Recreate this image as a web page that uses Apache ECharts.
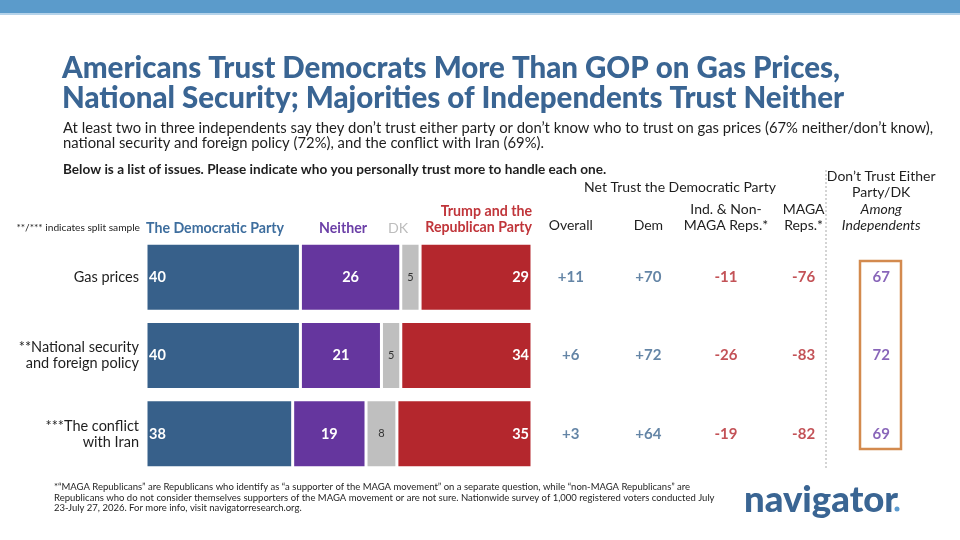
<!DOCTYPE html>
<html>
<head>
<meta charset="utf-8">
<script src="https://cdn.jsdelivr.net/npm/echarts@6/dist/echarts.min.js"></script>
<style>
  html, body { margin: 0; padding: 0; background: #fff; }
  #main { width: 960px; height: 540px; }
</style>
</head>
<body>
<div id="main"></div>
<script>
const issues = ['Gas prices', '**National security\nand foreign policy', '***The conflict\nwith Iran'];
const demParty = [40, 40, 38];
const neither = [26, 21, 19];
const dk = [5, 5, 8];
const gopParty = [29, 34, 35];

const tableCols = ['Overall', 'Dem', 'Ind', 'MAGA', 'Indep'];
const netOverall = [11, 6, 3];
const netDem = [70, 72, 64];
const netInd = [-11, -26, -19];
const netMaga = [-76, -83, -82];
const indepNeither = [67, 72, 69];

const FONT = 'Lato, "Noto Sans", sans-serif';
const BLUE = '#37608a';
const PURPLE = '#65369e';
const GRAY = '#bfbfbf';
const RED = '#b4272d';
const TXT = '#1e1e1e';

const chart = echarts.init(document.getElementById('main'));

function signed(v) {
  return v > 0 ? '+' + v : '' + v;
}

function barSeries(name, data, color, label) {
  return {
    name: name,
    type: 'bar',
    stack: 'all',
    barWidth: 68,
    data: data,
    itemStyle: { color: color, borderColor: '#fff', borderWidth: 1.5 },
    label: Object.assign({ show: true, fontFamily: FONT, fontSize: 14.5 }, label),
    silent: true
  };
}

function tableSeries(col, data, color, fmt) {
  return {
    type: 'scatter',
    xAxisIndex: 1,
    yAxisIndex: 1,
    symbolSize: 0,
    data: data.map((v, i) => ({ value: [col, i], v: v })),
    label: {
      show: true,
      position: 'inside',
      fontFamily: FONT,
      fontSize: 15,
      fontWeight: 'bold',
      color: color,
      formatter: p => fmt(p.data.v)
    },
    silent: true
  };
}

const colHeaders = {
  Overall: 'Overall',
  Dem: 'Dem',
  Ind: 'Ind. & Non-\nMAGA Reps.*',
  MAGA: 'MAGA\nReps.*',
  Indep: 'Don\u2019t Trust Either\nParty/DK\n{i|Among}\n{i|Independents}'
};

const option = {
  backgroundColor: '#fff',
  animation: false,
  grid: [
    { left: 146, width: 386, top: 238, height: 235 },
    { left: 532, right: 40, top: 238, height: 235 }
  ],
  xAxis: [
    { type: 'value', min: 0, max: 100, show: false, gridIndex: 0 },
    {
      type: 'category', gridIndex: 1, data: tableCols, position: 'top',
      axisLine: { show: false }, axisTick: { show: false },
      axisLabel: {
        margin: 4, interval: 0, fontFamily: FONT, fontSize: 14, color: TXT,
        lineHeight: 16.5, align: 'center', verticalAlign: 'bottom',
        formatter: v => colHeaders[v],
        rich: { i: { fontStyle: 'italic', fontFamily: FONT, fontSize: 14, color: TXT, lineHeight: 16.5 } }
      }
    }
  ],
  yAxis: [
    {
      type: 'category', gridIndex: 0, data: issues, inverse: true,
      axisLine: { show: false }, axisTick: { show: false },
      axisLabel: { margin: 7, fontFamily: FONT, fontSize: 14.5, color: TXT, lineHeight: 16, align: 'right' }
    },
    { type: 'category', gridIndex: 1, data: issues, inverse: true, show: false }
  ],
  series: [
    barSeries('The Democratic Party', demParty, BLUE,
      { position: 'insideLeft', distance: 3, color: '#fff', fontWeight: 'bold' }),
    barSeries('Neither', neither, PURPLE,
      { position: 'inside', color: '#fff', fontWeight: 'bold' }),
    barSeries('DK', dk, GRAY,
      { position: 'inside', color: '#333', fontSize: 11 }),
    barSeries('Trump and the Republican Party', gopParty, RED,
      { position: 'insideRight', distance: 3, color: '#fff', fontWeight: 'bold' }),
    tableSeries('Overall', netOverall, '#3d6690', signed),
    tableSeries('Dem', netDem, '#3d6690', signed),
    tableSeries('Ind', netInd, RED, signed),
    tableSeries('MAGA', netMaga, RED, signed),
    tableSeries('Indep', indepNeither, '#6a3ea8', v => '' + v)
  ],
  graphic: [
    { type: 'rect', shape: { x: 0, y: 0, width: 960, height: 13 }, style: { fill: '#5b9bcb' } },
    { type: 'rect', shape: { x: 0, y: 13, width: 960, height: 2 }, style: { fill: '#b5d3ea' } },
    {
      type: 'text', left: 62, top: 53,
      style: {
        text: 'Americans Trust Democrats More Than GOP on Gas Prices,\nNational Security; Majorities of Independents Trust Neither',
        font: '900 29.5px ' + FONT, fill: '#3a6593', lineHeight: 30.5
      }
    },
    {
      type: 'text', left: 63, top: 120,
      style: {
        text: 'At least two in three independents say they don\u2019t trust either party or don\u2019t know who to trust on gas prices (67% neither/don\u2019t know),\nnational security and foreign policy (72%), and the conflict with Iran (69%).',
        font: '14.8px ' + FONT, fill: TXT, lineHeight: 15.5
      }
    },
    {
      type: 'text', left: 63, top: 163,
      style: {
        text: 'Below is a list of issues. Please indicate who you personally trust more to handle each one.',
        font: 'bold 13.6px ' + FONT, fill: TXT
      }
    },
    {
      type: 'text', x: 680, y: 187,
      style: { text: 'Net Trust the Democratic Party', font: '14px ' + FONT, fill: TXT, align: 'center', verticalAlign: 'middle' }
    },
    {
      type: 'text', x: 140, y: 228,
      style: { text: '**/*** indicates split sample', font: '10.2px ' + FONT, fill: TXT, align: 'right', verticalAlign: 'middle' }
    },
    {
      type: 'text', x: 146, y: 228,
      style: { text: 'The Democratic Party', font: 'bold 14.2px ' + FONT, fill: '#3e6e9e', verticalAlign: 'middle' }
    },
    {
      type: 'text', x: 319, y: 228,
      style: { text: 'Neither', font: 'bold 14.2px ' + FONT, fill: '#6b3fa7', verticalAlign: 'middle' }
    },
    {
      type: 'text', x: 388, y: 228,
      style: { text: 'DK', font: '14.2px ' + FONT, fill: '#bdbdbd', verticalAlign: 'middle' }
    },
    {
      type: 'text', x: 532, y: 236,
      style: { text: 'Trump and the\nRepublican Party', font: 'bold 14.2px ' + FONT, fill: '#c0353a', align: 'right', verticalAlign: 'bottom', lineHeight: 16.5 }
    },
    {
      type: 'line', shape: { x1: 826, y1: 170, x2: 826, y2: 470 },
      style: { stroke: '#aaaaaa', lineWidth: 1, lineDash: [2, 2] }
    },
    {
      type: 'rect', shape: { x: 860, y: 261, width: 41, height: 188 },
      style: { fill: 'none', stroke: '#d38a4e', lineWidth: 2.5 }
    },
    {
      type: 'text', left: 54, top: 482,
      style: {
        text: '*\u201cMAGA Republicans\u201d are Republicans who identify as \u201ca supporter of the MAGA movement\u201d on a separate question, while \u201cnon-MAGA Republicans\u201d are\nRepublicans who do not consider themselves supporters of the MAGA movement or are not sure. Nationwide survey of 1,000 registered voters conducted July\n23-July 27, 2026. For more info, visit navigatorresearch.org.',
        font: '9.5px ' + FONT, fill: TXT, lineHeight: 10.5
      }
    },
    {
      type: 'text', x: 744, y: 500,
      style: { text: 'navigator', font: '900 36.5px ' + FONT, fill: '#3a6593', verticalAlign: 'middle' }
    },
    { type: 'circle', shape: { cx: 897, cy: 509, r: 2.5 }, style: { fill: '#5b9bd0' } }
  ]
};

chart.setOption(option);
</script>
</body>
</html>
